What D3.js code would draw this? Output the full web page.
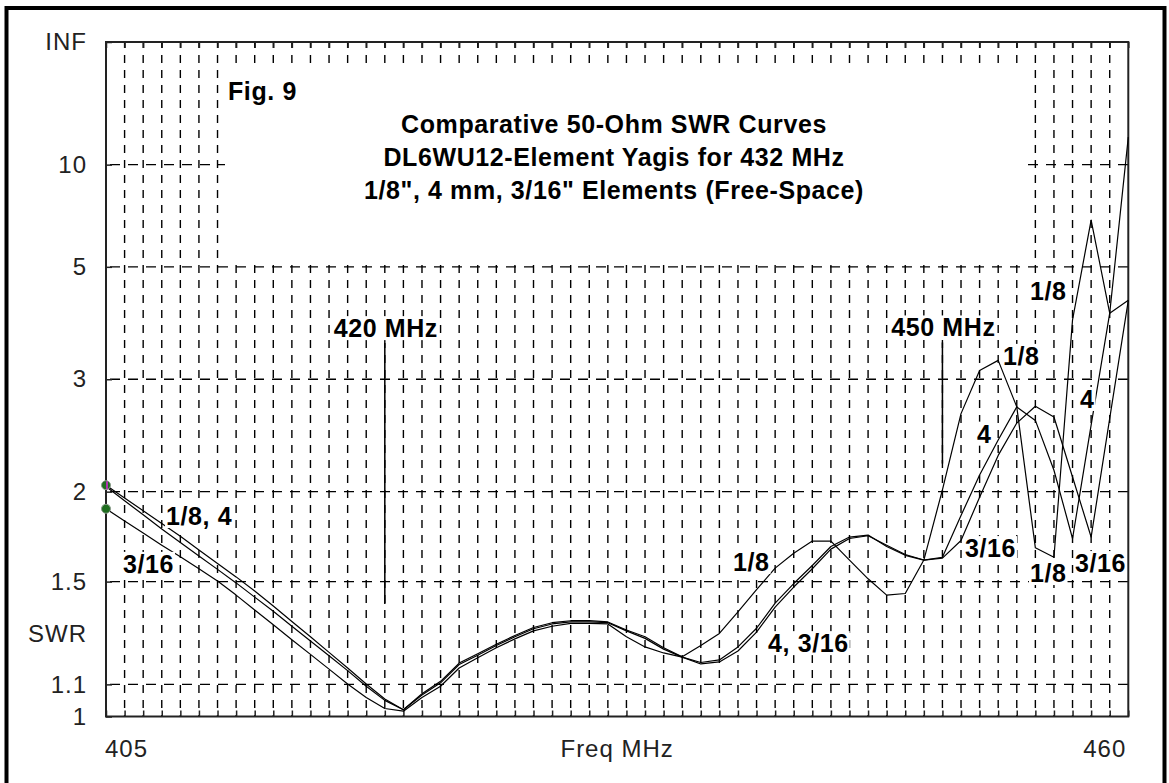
<!DOCTYPE html>
<meta charset="utf-8">
<style>
body { margin: 0; background: #fff; }
svg { display: block; }
.axis text { font-family: "Liberation Sans", Arial, sans-serif; font-size: 24px; fill: #222; letter-spacing: 1px; }
.axis .domain { display: none; }
.axis line { stroke: #222; stroke-width: 1.5; }
.lbl { font-family: "Liberation Sans", Arial, sans-serif; font-weight: bold; font-size: 25px; fill: #000; letter-spacing: 0.6px; }
.grid line { stroke: #000; stroke-width: 1.4; }
.curve { fill: none; stroke: #000; stroke-width: 1.2; stroke-linejoin: round; }
</style>
<svg width="1169" height="783"></svg>
<script src="https://d3js.org/d3.v7.min.js"></script>
<script>

// sweep 405..460 MHz, 1 MHz steps
var freqMHz = [405,406,407,408,409,410,411,412,413,414,415,416,417,418,419,420,
  421,422,423,424,425,426,427,428,429,430,431,432,433,434,435,436,437,438,439,440,
  441,442,443,444,445,446,447,448,449,450,451,452,453,454,455,456,457,458,459,460];

var swrEighth = [2.044,1.959,1.878,1.801,1.729,1.656,1.587,1.522,1.457,1.392,1.328,1.268,1.210,1.155,1.101,1.053,
  1.020,1.070,1.110,1.172,1.205,1.240,1.273,1.304,1.323,1.331,1.331,1.326,1.294,1.268,1.227,1.194,1.235,1.281,1.367,1.463,
  1.564,1.639,1.703,1.703,1.604,1.513,1.439,1.446,1.604,2.012,2.630,3.107,3.237,2.697,1.667,1.618,3.854,6.576,3.975,4.222];

var swr4mm = [2.035,1.941,1.853,1.770,1.695,1.625,1.558,1.494,1.430,1.370,1.309,1.252,1.198,1.146,1.094,1.049,
  1.020,1.066,1.105,1.167,1.200,1.235,1.268,1.299,1.318,1.326,1.326,1.323,1.291,1.262,1.222,1.193,1.174,1.183,1.230,1.301,
  1.404,1.491,1.577,1.674,1.725,1.736,1.674,1.628,1.604,1.618,1.849,2.115,2.390,2.697,2.565,2.150,1.717,2.521,3.975,13.18];

var swr316 = [1.890,1.817,1.747,1.681,1.621,1.561,1.503,1.439,1.375,1.315,1.257,1.203,1.151,1.101,1.058,1.024,
  1.016,1.058,1.094,1.155,1.191,1.227,1.260,1.291,1.309,1.320,1.320,1.318,1.268,1.230,1.208,1.193,1.169,1.176,1.215,1.286,
  1.387,1.475,1.561,1.660,1.717,1.732,1.681,1.632,1.604,1.614,1.706,1.963,2.263,2.540,2.704,2.597,2.101,1.725,2.584,4.222];

var swrTicks = [1, 1.1, 1.5, 2, 3, 5, 10, Infinity];
var swrTickLabels = ["1", "1.1", "1.5", "2", "3", "5", "10", "INF"];
var gridSwr = [1.1, 1.5, 2, 3, 5, 10];

var titleLines = ["Comparative 50-Ohm SWR Curves",
                  "DL6WU12-Element Yagis for 432 MHz",
                  "1/8\", 4 mm, 3/16\" Elements (Free-Space)"];

var markers = [{f: 420, label: "420 MHz", top: 3.48, bottom: 1.40},
               {f: 450, label: "450 MHz", top: 3.49, bottom: 2.20}];

var curveLabels = [
  {t: "1/8, 4", f: 408.23, s: 1.793},
  {t: "3/16",   f: 405.91, s: 1.541},
  {t: "1/8",    f: 438.73, s: 1.550},
  {t: "4, 3/16",f: 440.62, s: 1.211},
  {t: "1/8",    f: 453.26, s: 3.178},
  {t: "4",      f: 451.86, s: 2.367},
  {t: "3/16",   f: 451.21, s: 1.619},
  {t: "1/8",    f: 454.71, s: 1.498},
  {t: "3/16",   f: 457.13, s: 1.545},
  {t: "1/8",    f: 454.71, s: 4.229},
  {t: "4",      f: 457.40, s: 2.686}
];

var svg = d3.select("svg");

// SWR is plotted linearly in reflection coefficient
function rho(s) { return s === Infinity ? 1 : (s - 1) / (s + 1); }

var x = d3.scaleLinear().domain([405, 460]).range([106, 1128.3]);
var yr = d3.scaleLinear().domain([0, 1]).range([716.5, 42]);
var y = function(s) { return yr(rho(s)); };

// outer frame
svg.append("path")
    .attr("d", "M6.5,783 V8 H1164.5 V783")
    .attr("fill", "none")
    .attr("stroke", "#000")
    .attr("stroke-width", 4);

// grid
var grid = svg.append("g").attr("class", "grid");
grid.selectAll(".v")
  .data(freqMHz.slice(1, -1))
  .enter().append("line")
    .attr("class", "v")
    .attr("x1", function(d) { return x(d); })
    .attr("x2", function(d) { return x(d); })
    .attr("y1", yr(1))
    .attr("y2", yr(0))
    .attr("stroke-dasharray", "8,7")
    .attr("stroke-dashoffset", 2);

grid.selectAll(".h")
  .data(gridSwr)
  .enter().append("line")
    .attr("class", "h")
    .attr("x1", x(405))
    .attr("x2", x(460))
    .attr("y1", function(d) { return y(d); })
    .attr("y2", function(d) { return y(d); })
    .attr("stroke-dasharray", "10,8")
    .attr("stroke-dashoffset", -4);

// blank box behind the title
svg.append("rect")
    .attr("x", 225).attr("y", 65)
    .attr("width", 799).attr("height", 198)
    .attr("fill", "#fff");

// axes
svg.append("g")
    .attr("class", "axis")
    .attr("transform", "translate(" + x(405) + ",0)")
    .call(d3.axisLeft(yr)
      .tickValues(swrTicks.map(rho))
      .tickSizeInner(-6).tickSizeOuter(0)
      .tickPadding(19)
      .tickFormat(function(d, i) { return swrTickLabels[i]; }));

svg.append("text")
    .attr("class", "axis")
    .attr("x", 87).attr("y", (y(1.5) + y(1.1)) / 2 + 9)
    .attr("text-anchor", "end")
    .style("font-family", "Liberation Sans, Arial, sans-serif")
    .style("font-size", "24px").style("fill", "#222").style("letter-spacing", "1px")
    .text("SWR");

svg.append("g")
    .attr("class", "axis")
    .attr("transform", "translate(0," + yr(0) + ")")
    .call(d3.axisBottom(x).tickValues(freqMHz).tickSizeInner(-6).tickSizeOuter(0).tickFormat(""));

svg.append("g")
    .attr("class", "axis")
    .attr("transform", "translate(0," + yr(1) + ")")
    .call(d3.axisTop(x).tickValues(freqMHz).tickSizeInner(-6).tickSizeOuter(0).tickFormat(""));

var xl = svg.append("g").attr("class", "axis");
xl.append("text").attr("x", x(405) - 1).attr("y", 757).text(freqMHz[0]);
xl.append("text").attr("x", x(460) - 2).attr("y", 757).attr("text-anchor", "end").text(freqMHz[freqMHz.length - 1]);
xl.append("text").attr("x", (x(405) + x(460)) / 2).attr("y", 757).attr("text-anchor", "middle").text("Freq MHz");

// plot frame
svg.append("rect")
    .attr("x", x(405)).attr("y", yr(1))
    .attr("width", x(460) - x(405)).attr("height", yr(0) - yr(1))
    .attr("fill", "none").attr("stroke", "#222").attr("stroke-width", 2);

// frequency markers
svg.selectAll(".marker")
  .data(markers)
  .enter().append("line")
    .attr("class", "marker")
    .attr("x1", function(d) { return x(d.f); })
    .attr("x2", function(d) { return x(d.f); })
    .attr("y1", function(d) { return y(d.top); })
    .attr("y2", function(d) { return y(d.bottom); })
    .attr("stroke", "#000").attr("stroke-width", 1.5);

// curves
var line = d3.line()
    .x(function(d) { return x(d[0]); })
    .y(function(d) { return y(d[1]); });

[swrEighth, swr4mm, swr316].forEach(function(series) {
  svg.append("path")
      .datum(freqMHz.map(function(f, i) { return [f, series[i]]; }))
      .attr("class", "curve")
      .attr("d", line);
});

// start-point markers
svg.selectAll(".dot")
  .data([swrEighth[0], swr316[0]])
  .enter().append("circle")
    .attr("cx", x(405)).attr("cy", function(d) { return y(d); })
    .attr("r", 4.5)
    .attr("fill", "#1f6e1f").attr("stroke", "#8a9a8a").attr("stroke-width", 1);
svg.append("line")
    .attr("x1", x(405) + 1).attr("x2", x(405) + 1)
    .attr("y1", y(swrEighth[0]) - 4).attr("y2", y(swrEighth[0]) + 4)
    .attr("stroke", "#e020e0").attr("stroke-width", 1.5);

// text with opaque background
function boxedText(g, tx, ty, str, anchor) {
  var t = g.append("text")
      .attr("class", "lbl")
      .attr("x", tx).attr("y", ty)
      .attr("text-anchor", anchor || "start")
      .text(str);
  var b = t.node().getBBox();
  g.insert("rect", "text")
      .attr("x", b.x - 1).attr("y", b.y + 2)
      .attr("width", b.width + 2).attr("height", b.height - 4)
      .attr("fill", "#fff");
}

var labels = svg.append("g");
curveLabels.forEach(function(d) {
  var g = labels.append("g");
  boxedText(g, x(d.f), y(d.s), d.t);
});
markers.forEach(function(d) {
  var g = labels.append("g");
  boxedText(g, x(d.f) + 1, y(d.top) - 6, d.label, "middle");
});

// title block
svg.append("text").attr("class", "lbl").attr("x", 228).attr("y", 100).text("Fig. 9");
svg.append("g").selectAll("text")
  .data(titleLines)
  .enter().append("text")
    .attr("class", "lbl")
    .attr("x", 614)
    .attr("y", function(d, i) { return 133 + i * 33; })
    .attr("text-anchor", "middle")
    .text(function(d) { return d; });

</script>
